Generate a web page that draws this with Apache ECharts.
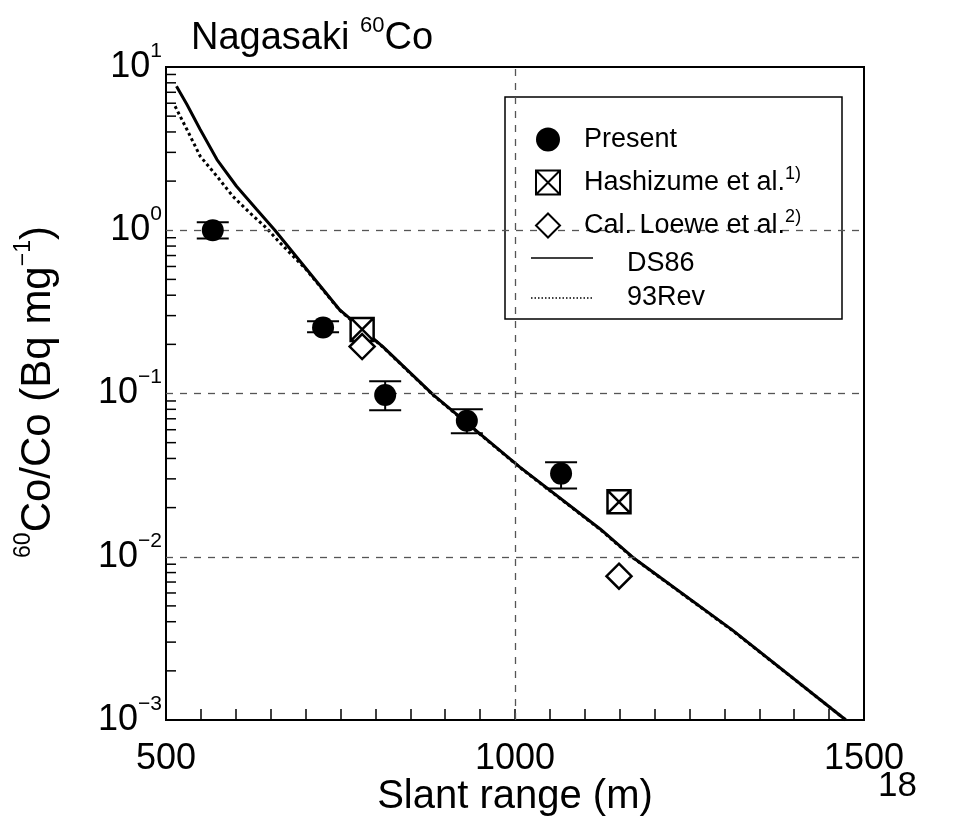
<!DOCTYPE html>
<html><head><meta charset="utf-8">
<script src="https://cdn.jsdelivr.net/npm/echarts@6/dist/echarts.min.js"></script>
<style>html,body{margin:0;padding:0;background:#fff}#c{width:954px;height:830px}</style>
</head><body><div id="c"></div>
<script>
const FONT = '"Liberation Sans", Arial, sans-serif';

// axis ticks / labels
const xTickLabels = [500, 1000, 1500];
const yDecades = [0.001, 0.01, 0.1, 1];
const minorMantissas = [2, 3, 4, 5, 6, 7, 8, 9];

// Present (measured) with error bars
const presentX = [567, 725, 814, 931, 1066];
const presentY = [1.0, 0.254, 0.098, 0.068, 0.0323];
const presentLow = [0.89, 0.237, 0.079, 0.057, 0.0262];
const presentHigh = [1.12, 0.277, 0.119, 0.080, 0.0379];

// Hashizume et al.
const hashX = [781, 1149];
const hashY = [0.247, 0.0217];

// Cal. Loewe et al.
const loeweX = [781, 1149];
const loeweY = [0.194, 0.0076];

// DS86 curve
const ds86X = [515, 530, 549, 573, 601, 630, 656, 700, 749, 811, 883, 1007, 1122, 1169, 1312, 1474];
const ds86Y = [7.62, 5.89, 4.14, 2.71, 1.86, 1.34, 1.0, 0.587, 0.325, 0.193, 0.098, 0.0354, 0.0148, 0.0099, 0.00354, 0.001];

// 93Rev curve
const rev93X = [513, 530, 549, 573, 596, 620, 644, 663, 700, 749, 811, 883, 1007, 1122, 1169, 1312, 1474];
const rev93Y = [5.75, 4.14, 2.84, 2.14, 1.61, 1.28, 1.03, 0.84, 0.58, 0.323, 0.192, 0.0975, 0.0352, 0.0147, 0.00985, 0.00352, 0.001];

const legendLabels = {
  'Present': '{t|Present}',
  'Hashizume et al.': '{t|Hashizume et al.}{s|1)}',
  'Cal. Loewe et al.': '{t|Cal. Loewe et al.}{s|2)}'
};

const yMinor = [];
yDecades.forEach(d => minorMantissas.forEach(m => yMinor.push([500, m * d])));

const zip = (a, b) => a.map((v, i) => [v, b[i]]);

const chart = echarts.init(document.getElementById('c'), null, {renderer: 'canvas'});

const supStyle = (size, raise) => ({fontFamily: FONT, fontSize: size, fontWeight: 'normal', color: '#000', padding: [0, 0, raise, 0]});

chart.setOption({
  animation: false,
  backgroundColor: '#fff',
  grid: {left: 166, right: 90, top: 67, bottom: 110, show: true, borderColor: '#000', borderWidth: 2, backgroundColor: 'transparent'},
  title: {
    text: '{b|Nagasaki }{s|60}{b|Co}',
    left: 186, top: 10,
    textStyle: {fontWeight: 'normal', rich: {b: {fontFamily: FONT, fontSize: 38, fontWeight: 'normal', color: '#000'}, s: supStyle(22, 26)}}
  },
  xAxis: {
    type: 'value', min: 500, max: 1500, interval: 50,
    axisLine: {show: true, lineStyle: {color: '#000', width: 2}},
    axisTick: {show: true, inside: true, length: 11, lineStyle: {color: '#000', width: 1.5}},
    axisLabel: {
      fontFamily: FONT, fontSize: 36, color: '#000', margin: 21,
      showMinLabel: true, showMaxLabel: true,
      formatter: v => xTickLabels.includes(v) ? String(v) : ''
    },
    splitLine: {show: false}
  },
  yAxis: {
    type: 'log', logBase: 10, min: 0.001, max: 10,
    axisLine: {show: true, lineStyle: {color: '#000', width: 2}},
    axisTick: {show: false},
    splitLine: {show: false},
    axisLabel: {
      margin: 4,
      formatter: v => {
        const e = Math.round(Math.log10(v));
        return '{b|10}{s|' + (e < 0 ? '\u2212' + (-e) : e) + '}';
      },
      rich: {b: {fontFamily: FONT, fontSize: 36, color: '#000'}, s: supStyle(21, 32)}
    }
  },
  legend: [
    {
      data: [
        {name: 'Present', icon: 'circle'},
        {name: 'Hashizume et al.'},
        {name: 'Cal. Loewe et al.'}
      ],
      orient: 'vertical', left: 530, top: 121, itemWidth: 62, itemHeight: 24, itemGap: 12.5,
      selectedMode: false, z: 10,
      formatter: n => legendLabels[n],
      textStyle: {rich: {t: {fontFamily: FONT, fontSize: 27, color: '#000'}, s: supStyle(18, 16)}}
    }
  ],
  graphic: [
    {type: 'rect', z: 5, shape: {x: 505, y: 97, width: 337, height: 222}, style: {fill: '#fff', stroke: '#000', lineWidth: 1.5}},
    {type: 'line', z: 6, shape: {x1: 531, y1: 258, x2: 593, y2: 258}, style: {stroke: '#000', lineWidth: 1.5}},
    {type: 'line', z: 6, shape: {x1: 531, y1: 298, x2: 593, y2: 298}, style: {stroke: '#000', lineWidth: 1.5, lineDash: [1.5, 2]}},
    {type: 'text', z: 6, x: 627, y: 264,
      style: {text: 'DS86', align: 'left', verticalAlign: 'middle', fontFamily: FONT, fontSize: 27, fill: '#000'}},
    {type: 'text', z: 6, x: 627, y: 298,
      style: {text: '93Rev', align: 'left', verticalAlign: 'middle', fontFamily: FONT, fontSize: 27, fill: '#000'}},
    {type: 'text', z: 5, x: 38, y: 392, rotation: Math.PI / 2,
      style: {text: '{s|60}{b|Co/Co (Bq mg}{s|\u22121}{b|)}', align: 'center', verticalAlign: 'middle',
        rich: {b: {fontFamily: FONT, fontSize: 42, color: '#000'}, s: supStyle(23, 28)}}},
    {type: 'text', z: 5, x: 515, y: 797,
      style: {text: 'Slant range (m)', align: 'center', verticalAlign: 'middle', fontFamily: FONT, fontSize: 40, fill: '#000'}},
    {type: 'text', z: 5, x: 878, y: 786,
      style: {text: '18', align: 'left', verticalAlign: 'middle', fontFamily: FONT, fontSize: 35, fill: '#000'}}
  ],
  series: [
    {
      name: 'minorTicks', type: 'custom', silent: true, z: 3,
      data: yMinor, encode: {x: 0, y: 1},
      renderItem: (params, api) => {
        const p = api.coord([api.value(0), api.value(1)]);
        return {type: 'line', shape: {x1: p[0], y1: p[1], x2: p[0] + 10, y2: p[1]}, style: {stroke: '#000', lineWidth: 1.5}};
      }
    },
    {
      name: 'DS86', type: 'line', data: zip(ds86X, ds86Y), symbol: 'none', showSymbol: false, z: 3,
      lineStyle: {color: '#000', width: 3}, itemStyle: {color: '#000'}
    },
    {
      name: '93Rev', type: 'line', data: zip(rev93X, rev93Y), symbol: 'none', showSymbol: false, z: 3,
      lineStyle: {color: '#000', width: 3, type: [3, 3]}, itemStyle: {color: '#000'}
    },
    {
      name: 'errorBars', type: 'custom', silent: true, z: 4,
      data: presentX.map((x, i) => [x, presentLow[i], presentHigh[i]]),
      encode: {x: 0, y: [1, 2]},
      renderItem: (params, api) => {
        const x = api.value(0);
        const lo = api.coord([x, api.value(1)]);
        const hi = api.coord([x, api.value(2)]);
        const hw = 16;
        const st = {stroke: '#000', lineWidth: 2};
        return {type: 'group', children: [
          {type: 'line', shape: {x1: lo[0], y1: lo[1], x2: hi[0], y2: hi[1]}, style: st},
          {type: 'line', shape: {x1: lo[0] - hw, y1: lo[1], x2: lo[0] + hw, y2: lo[1]}, style: st},
          {type: 'line', shape: {x1: hi[0] - hw, y1: hi[1], x2: hi[0] + hw, y2: hi[1]}, style: st}
        ]};
      }
    },
    {
      name: 'Present', type: 'scatter', data: zip(presentX, presentY), symbol: 'circle', symbolSize: 22, z: 5,
      itemStyle: {color: '#000', opacity: 1},
      markLine: {
        silent: true, symbol: ['none', 'none'], label: {show: false}, animation: false,
        lineStyle: {color: '#555', width: 1.3, type: [7, 7]},
        data: [{yAxis: 1}, {yAxis: 0.1}, {yAxis: 0.01}, {xAxis: 1000}]
      }
    },
    {
      name: 'Hashizume et al.', type: 'scatter', data: zip(hashX, hashY), z: 5,
      symbol: 'path://M0,0L20,0L20,20L0,20Z M0,0L20,20 M20,0L0,20', symbolSize: 23,
      itemStyle: {color: '#fff', borderColor: '#000', borderWidth: 2.5, opacity: 1}
    },
    {
      name: 'Cal. Loewe et al.', type: 'scatter', data: zip(loeweX, loeweY), z: 5,
      symbol: 'path://M10,0L20,10L10,20L0,10Z', symbolSize: 25,
      itemStyle: {color: '#fff', borderColor: '#000', borderWidth: 2.5, opacity: 1}
    }
  ]
});
</script>
</body></html>
